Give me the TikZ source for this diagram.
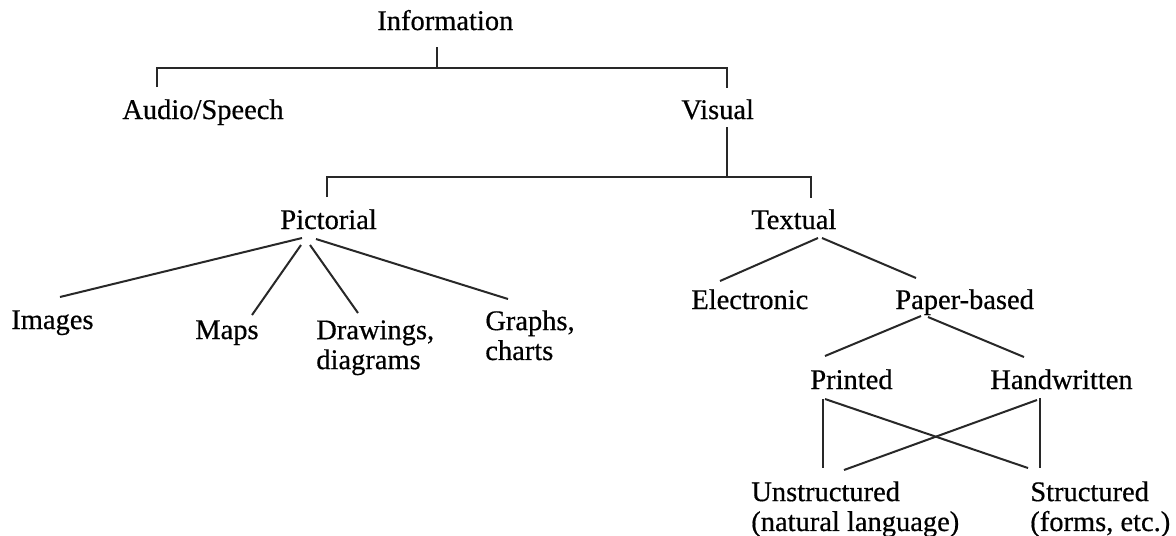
\documentclass[tikz,border=0pt]{standalone}
\usepackage{fontspec}
\setmainfont{Liberation Serif}
\newfontfamily\treefont[FakeBold=0.5]{Liberation Serif}
\usepackage{tikz}
\usetikzlibrary{positioning}
\definecolor{treeline}{RGB}{40,40,40}
\tikzset{
  term/.style={inner sep=0pt, anchor=base west, font=\treefont\fontsize{16.2}{17}\selectfont},
  termtwo/.style={term, anchor=north west, align=left},
  link/.style={treeline, line width=0.4mm}
}

\begin{document}
\begin{tikzpicture}[x=0.2mm, y=-0.2mm]
\useasboundingbox[fill=white] (0,0) rectangle (1176,536);

% --- top levels ---
\node[term] (info) at (377,30) {Information};
\node[term] (audio) at (122,119) {Audio/Speech};
\node[term] (visual) at (681,119) {Visual};
\node[term] (pict) at (280,229) {Pictorial};
\node[term] (textual) at (751,229) {Textual};

% --- pictorial leaves ---
\node[term] (images) at (11,329) {Images};
\node[term] (maps) at (195,339) {Maps};
\node[termtwo] (drawings) at (316,320) {Drawings,\\diagrams};
\node[termtwo] (graphs) at (485,310) {Graphs,\\charts};

% --- textual branch ---
\node[term] (elec) at (691,309) {Electronic};
\node[term] (paper) at (895,309) {Paper-based};
\node[term] (printed) at (810,389) {Printed};
\node[term] (hand) at (990,389) {Handwritten};
\node[termtwo] (unstr) at (751,481) {Unstructured\\(natural language)};
\node[termtwo] (struct) at (1030,481) {Structured\\(forms, etc.)};

% connector ends
\coordinate (infoS) at (437,47);
\coordinate (audioN) at (157,87);
\coordinate (visualN) at (727,88);
\coordinate (visualS) at (727,127);
\coordinate (pictN) at (327,197);
\coordinate (textualN) at (811,198);

% elbow connectors
\draw[link] (infoS) -- ++(0,21);
\draw[link] (audioN) -- ++(0,-19) -| (visualN);
\draw[link] (visualS) -- ++(0,50);
\draw[link] (pictN) -- ++(0,-20) -| (textualN);

% Pictorial fan
\draw[link] (302,238) -- (60,297);
\draw[link] (301,245) -- (252,315);
\draw[link] (310,245) -- (358,313);
\draw[link] (316,239) -- (508,299);

% Textual and Paper-based
\draw[link] (818,238) -- (720,281);
\draw[link] (822,238) -- (916,278);
\draw[link] (921,316) -- (825,356);
\draw[link] (928,317) -- (1024,357);

% crossing links
\draw[link] (823,399) -- (823,468);
\draw[link] (825,399) -- (1028,468);
\draw[link] (1040,398) -- (1040,468);
\draw[link] (1037,400) -- (844,470);

\end{tikzpicture}
\end{document}
